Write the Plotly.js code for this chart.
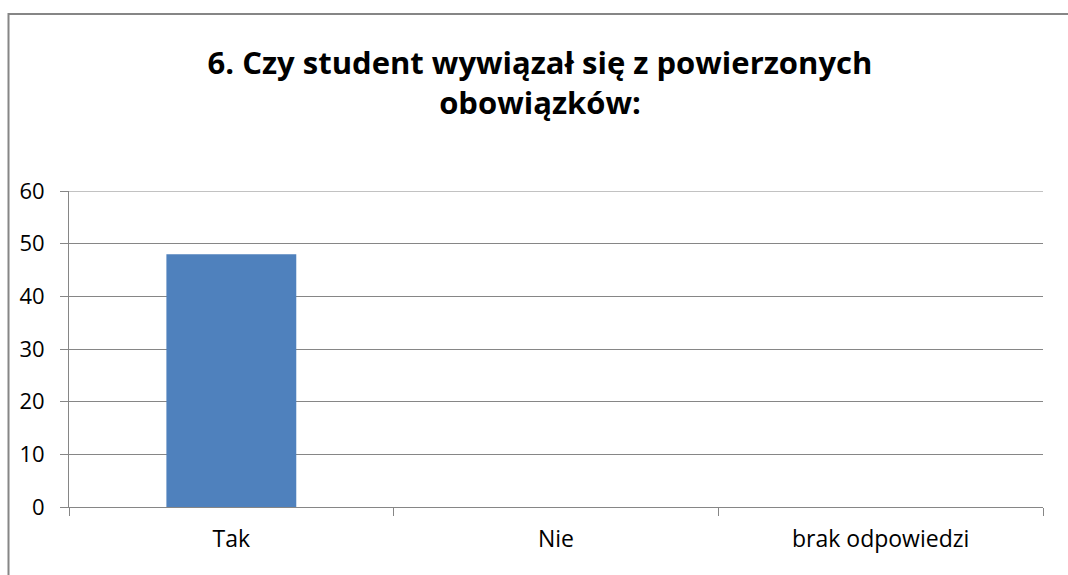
<!DOCTYPE html>
<html>
<head>
<meta charset="utf-8">
<script src="https://cdn.plot.ly/plotly-3.0.1.min.js"></script>
<style>html,body{margin:0;padding:0;background:#fff;}#chart{width:1068px;height:575px;}</style>
</head>
<body>
<div id="chart"></div>
<script>
var categories = ["Tak", "Nie", "brak odpowiedzi"];
var values = [48, 0, 0];
var yTicks = [0, 10, 20, 30, 40, 50, 60];
var yMax = 60;
var titleText = "6. Czy student wywiązał się z powierzonych<br>obowiązków:";

var W = 974, H = 316; // plot area size in px
var trace = {
  type: "bar",
  x: categories,
  y: values,
  marker: {color: "#4F81BD"},
  width: 0.4,
  hoverinfo: "x+y"
};

var layout = {
  width: 1068,
  height: 575,
  margin: {l: 69, r: 25, t: 191, b: 68},
  paper_bgcolor: "#ffffff",
  plot_bgcolor: "#ffffff",
  showlegend: false,
  font: {family: "'Open Sans', Lato, sans-serif", color: "#000000"},
  title: {
    text: titleText,
    font: {family: "'Open Sans', Lato, sans-serif", size: 31, color: "#000000", weight: "bold"},
    x: 0.5056, xanchor: "center",
    y: 0.872, yanchor: "middle"
  },
  xaxis: {
    type: "category",
    tickson: "boundaries",
    ticks: "outside",
    ticklen: 8,
    tickcolor: "#868686",
    tickwidth: 1,
    showline: true,
    linecolor: "#868686",
    linewidth: 1,
    showgrid: false,
    tickfont: {size: 23, color: "#000000"},
    ticklabelstandoff: 11,
    fixedrange: true
  },
  yaxis: {
    range: [0, yMax],
    tickvals: yTicks,
    ticktext: yTicks.map(String),
    ticks: "outside",
    ticklen: 8,
    tickcolor: "#868686",
    showline: true,
    linecolor: "#868686",
    linewidth: 1,
    showgrid: true,
    gridcolor: "#868686",
    gridwidth: 1,
    zeroline: false,
    tickfont: {size: 22, color: "#000000"},
    ticklabelstandoff: 11,
    fixedrange: true
  },
  shapes: [{
    type: "rect",
    xref: "paper", yref: "paper",
    x0: (8.5 - 69) / W, x1: 1.2,
    y0: -0.5, y1: (507 - 14) / H,
    line: {color: "#868686", width: 2},
    fillcolor: "rgba(0,0,0,0)",
    layer: "below"
  }, {
    type: "line",
    xref: "paper", yref: "y",
    x0: 0, x1: 1, y0: yMax, y1: yMax,
    line: {color: "#868686", width: 1},
    layer: "below"
  }]
};

Plotly.newPlot("chart", [trace], layout, {displayModeBar: false, staticPlot: true});
</script>
</body>
</html>
